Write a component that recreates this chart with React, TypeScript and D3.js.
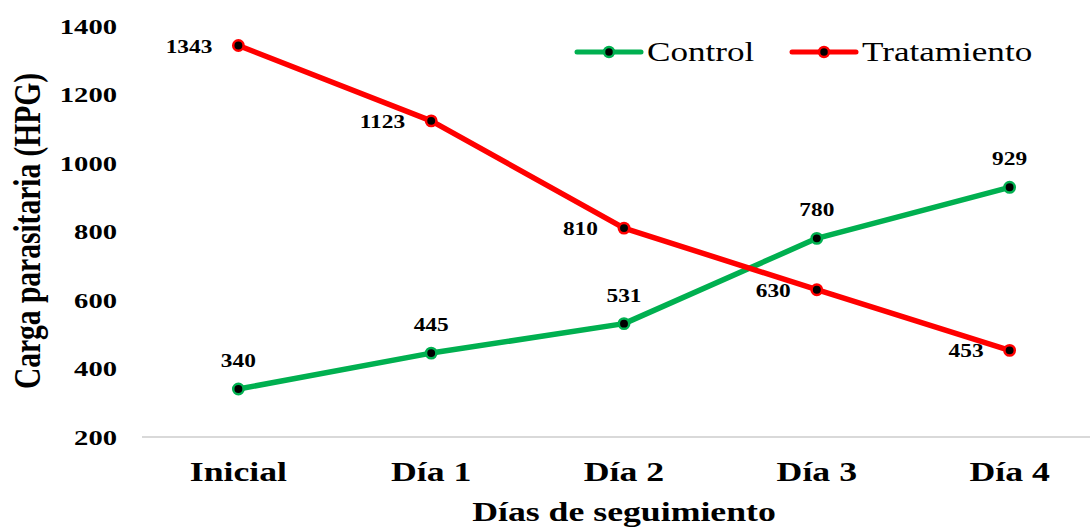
import React from 'react';
import * as d3 from 'd3';

const days = ['Inicial', 'Día 1', 'Día 2', 'Día 3', 'Día 4'];
const controlValues = [340, 445, 531, 780, 929];
const tratamientoValues = [1343, 1123, 810, 630, 453];
const yTicks = [200, 400, 600, 800, 1000, 1200, 1400];

const W = 1090;
const H = 527;
const FONT = '"Liberation Serif", "Times New Roman", serif';
const SX = 1.3; // the reference text is drawn wide

const GREEN = '#00B050';
const RED = '#FF0000';

const x = d3.scalePoint<string>().domain(days).range([142, 1106]).padding(0.5);
const y = d3.scaleLinear().domain([200, 1400]).range([437, 26]);

const line = d3.line<number>()
  .x((_, i) => x(days[i])!)
  .y(d => y(d))
  .curve(d3.curveLinear);

// text stretched horizontally around its anchor point
const WideText = ({ x: tx, y: ty, size, anchor, weight = 'bold', children }:
  { x: number; y: number; size: number; anchor: string; weight?: string; children: React.ReactNode }) => (
  <text
    transform={`translate(${tx},${ty}) scale(${SX},1)`}
    textAnchor={anchor}
    fontFamily={FONT}
    fontWeight={weight}
    fontSize={size}
    fill="#000"
  >
    {children}
  </text>
);

const series = [
  { name: 'Control', color: GREEN, values: controlValues, labelPos: 'above', legendX: 577 },
  { name: 'Tratamiento', color: RED, values: tratamientoValues, labelPos: 'left', legendX: 792 },
];

export default function App() {
  return (
    <div style={{ position: 'absolute', left: 0, top: 0, width: W, height: H, background: '#fff' }}>
      <svg width={W} height={H} style={{ display: 'block' }}>
        {/* y tick labels */}
        {yTicks.map(t => (
          <WideText key={t} x={117} y={y(t) + 7.5} size={22} anchor="end">{t}</WideText>
        ))}

        {/* x axis line */}
        <line x1={142} x2={W} y1={y(200)} y2={y(200)} stroke="#d9d9d9" strokeWidth={2} />

        {/* x labels */}
        {days.map(d => (
          <WideText key={d} x={x(d)!} y={481} size={27.5} anchor="middle">{d}</WideText>
        ))}

        {/* axis titles */}
        <WideText x={624} y={521} size={27.5} anchor="middle">Días de seguimiento</WideText>
        <text
          transform={`translate(40,231) scale(${SX},1) rotate(-90)`}
          textAnchor="middle"
          fontFamily={FONT}
          fontWeight="bold"
          fontSize={29.5}
        >
          Carga parasitaria (HPG)
        </text>

        {/* lines */}
        {series.map(s => (
          <path key={s.name} d={line(s.values)!} fill="none" stroke={s.color} strokeWidth={5.5} strokeLinejoin="round" />
        ))}

        {/* markers */}
        {series.map(s => s.values.map((v, i) => (
          <circle key={s.name + i} cx={x(days[i])!} cy={y(v)} r={5.2} fill="#000" stroke={s.color} strokeWidth={2.5} />
        )))}

        {/* data labels */}
        {series.map(s => s.values.map((v, i) => (
          s.labelPos === 'above'
            ? <WideText key={s.name + 'l' + i} x={x(days[i])!} y={y(v) - 22} size={18} anchor="middle">{v}</WideText>
            : <WideText key={s.name + 'l' + i} x={x(days[i])! - 26} y={y(v) + 7} size={18} anchor="end">{v}</WideText>
        )))}

        {/* legend */}
        {series.map(s => (
          <g key={'leg' + s.name}>
            <line x1={s.legendX} x2={s.legendX + 64} y1={52} y2={52} stroke={s.color} strokeWidth={5} strokeLinecap="round" />
            <circle cx={s.legendX + 32} cy={52} r={5} fill="#000" stroke={s.color} strokeWidth={2.5} />
            <WideText x={s.legendX + 70} y={61} size={27} anchor="start" weight="normal">{s.name}</WideText>
          </g>
        ))}
      </svg>
    </div>
  );
}
